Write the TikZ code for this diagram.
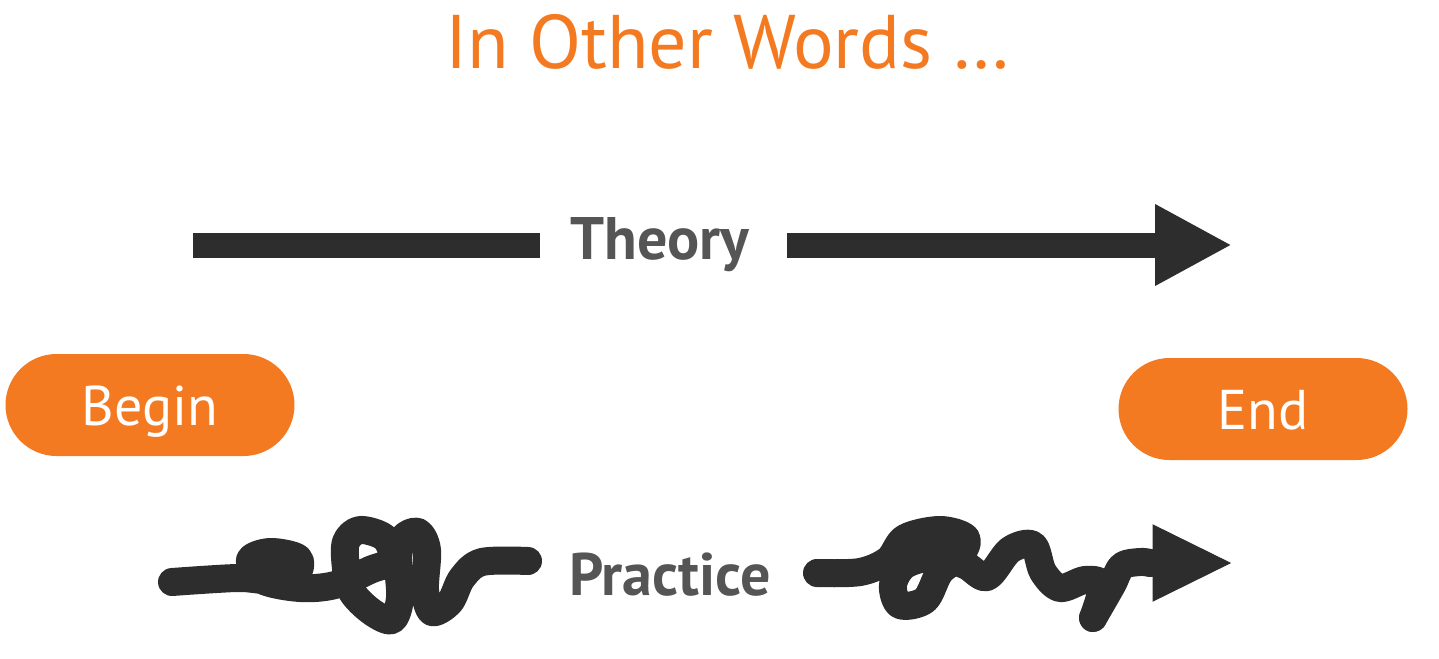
\documentclass[tikz,border=0pt]{standalone}
\usepackage{fontspec}
\setmainfont{PT Sans}
\usetikzlibrary{arrows.meta}

\definecolor{accent}{HTML}{F47A22}
\definecolor{ink}{HTML}{2D2D2D}
\definecolor{label}{HTML}{555555}

\begin{document}
\begin{tikzpicture}[x=1pt, y=-1pt,
        bar/.style={draw=ink, line width=25pt},
        scribble/.style={draw=ink, line width=28pt, line cap=round, line join=round},
        head/.style={-{Triangle[length=77pt, width=76pt]}},
        pill/.style={fill=accent, text=white, rounded corners=51pt,
            minimum width=289pt, minimum height=102pt, text height=40pt, text depth=0pt,
            font=\fontsize{56}{60}\selectfont},
        word/.style={text=label, font=\fontsize{60}{64}\selectfont\bfseries, inner sep=0pt}]
    \useasboundingbox (0, 0) rectangle (1439, 658);

    \node[text=accent, font=\fontsize{76}{80}\selectfont] (title) at (728, 42) {In Other Words \dots};

    \node[word] (theory) at (660, 245) {Theory};
    \node[word] (practice) at (670, 575) {Practice};

    \node[pill] (begin) at (150, 405) {Begin};
    \node[pill] (end) at (1263, 409) {End};

    \coordinate (theoryStart) at (193, 245);
    \coordinate (theoryLeft) at (540, 245);
    \coordinate (theoryRight) at (787, 245);
    \coordinate (theoryEnd) at (1232, 245);

    \draw[bar] (theoryStart) -- (theoryLeft);
    \draw[bar, head] (theoryRight) -- (theoryEnd);

    % practice: the tangled way
    \coordinate (practiceStart) at (172, 582);
    \coordinate (practiceLeft) at (528, 561);
    \coordinate (practiceRight) at (817, 573);
    \coordinate (practiceBase) at (1150, 563);
    \coordinate (practiceEnd) at (1230, 563);

    \draw[scribble] plot[smooth, tension=0.55] coordinates {
        (practiceStart) (237, 578) (268, 580) (296, 574) (298, 558) (270, 552)
        (250, 560) (262, 580) (300, 588) (335, 585) (370, 570) (392, 560)
        (385, 538) (360, 530) (346, 542) (346, 568) (352, 592) (372, 612)
        (392, 620) (400, 598) (398, 560) (403, 538) (418, 532) (427, 550)
        (425, 590) (432, 612) (450, 602) (462, 578) (482, 562) (practiceLeft)};
    \draw[scribble] plot[smooth, tension=0.55] coordinates {
        (practiceRight) (860, 572) (888, 560) (905, 538) (940, 530) (966, 538)
        (960, 556) (940, 572) (925, 600) (900, 605) (893, 585) (905, 565)
        (935, 557) (965, 565) (987, 577) (1010, 550) (1033, 545) (1043, 572)
        (1060, 588) (1085, 580) (1102, 585) (1093, 618)};
    \draw[scribble] plot[smooth, tension=0.55] coordinates {
        (1093, 618) (1112, 585) (1122, 566) (1140, 562) (practiceBase)};
    \draw[ink, line width=1pt, fill=ink] (1153, 525) -- (practiceEnd) -- (1153, 601) -- cycle;
\end{tikzpicture}
\end{document}
